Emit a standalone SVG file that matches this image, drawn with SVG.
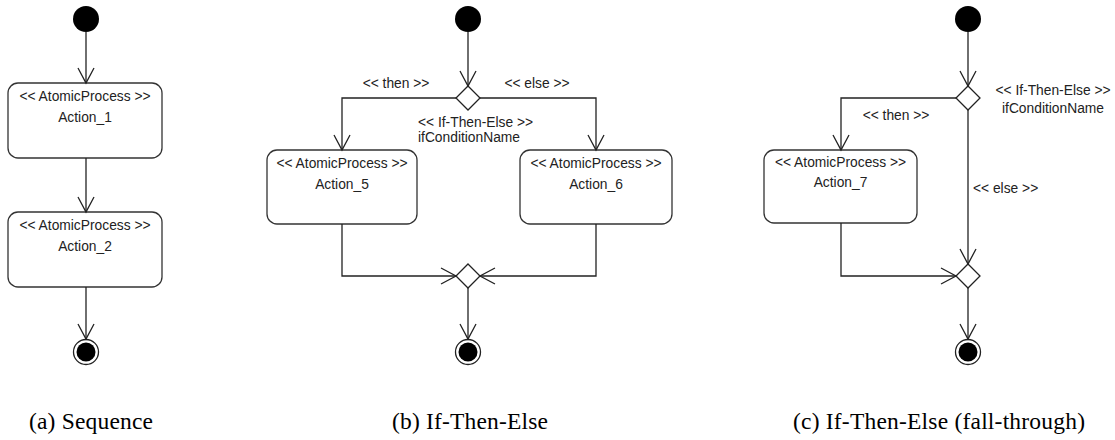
<svg xmlns="http://www.w3.org/2000/svg" width="1115" height="440" viewBox="0 0 1115 440">
<style>
.box{fill:#fff;stroke:#333;stroke-width:1.3}
.dia{fill:#fff;stroke:#222;stroke-width:1.3}
.ln{fill:none;stroke:#222;stroke-width:1.3}
.arr{marker-end:url(#ah)}
.init{fill:#000}
.fo{fill:#fff;stroke:#222;stroke-width:1.3}
.fi{fill:#000}
.t{font-family:"Liberation Sans",Arial,sans-serif;font-size:13.8px;fill:#222}
.m{text-anchor:middle}
.cap{font-family:"Liberation Serif","Times New Roman",serif;font-size:23.5px;fill:#000}
</style>
<defs>
<marker id="ah" markerUnits="userSpaceOnUse" markerWidth="18" markerHeight="20" viewBox="0 0 18 20" refX="16" refY="10" orient="auto">
<path d="M1,2 L16,10 L1,18" fill="none" stroke="#222" stroke-width="1.3"/>
</marker>
</defs>

<!-- Panel (a) -->
<g id="a-initial"><circle class="init" cx="86" cy="19" r="13"/></g>
<g id="a-action1">
<rect class="box" x="8" y="83" width="154" height="75" rx="10"/>
<text class="t m" x="85" y="101">&lt;&lt; AtomicProcess &gt;&gt;</text>
<text class="t m" x="85" y="122">Action_1</text>
</g>
<g id="a-action2">
<rect class="box" x="8" y="212" width="154" height="75" rx="10"/>
<text class="t m" x="85" y="230">&lt;&lt; AtomicProcess &gt;&gt;</text>
<text class="t m" x="85" y="251">Action_2</text>
</g>
<g id="a-final"><circle class="fo" cx="86" cy="352" r="12.5"/><circle class="fi" cx="86" cy="352" r="9.5"/></g>

<!-- Panel (b) -->
<g id="b-initial"><circle class="init" cx="468" cy="19" r="13"/></g>
<g id="b-decision">
<polygon class="dia" points="468,86 480,98 468,110 456,98"/>
<text class="t" x="418" y="127">&lt;&lt; If-Then-Else &gt;&gt;</text>
<text class="t" x="418" y="142">ifConditionName</text>
</g>
<g id="b-action5">
<rect class="box" x="267" y="150" width="150" height="74" rx="10"/>
<text class="t m" x="342" y="168">&lt;&lt; AtomicProcess &gt;&gt;</text>
<text class="t m" x="342" y="189">Action_5</text>
</g>
<g id="b-action6">
<rect class="box" x="520" y="150" width="152" height="74" rx="10"/>
<text class="t m" x="596" y="168">&lt;&lt; AtomicProcess &gt;&gt;</text>
<text class="t m" x="596" y="189">Action_6</text>
</g>
<g id="b-merge"><polygon class="dia" points="468,264 480,276 468,288 456,276"/></g>
<g id="b-final"><circle class="fo" cx="468" cy="352" r="12.5"/><circle class="fi" cx="468" cy="352" r="9.5"/></g>

<!-- Panel (c) -->
<g id="c-initial"><circle class="init" cx="968" cy="19" r="13"/></g>
<g id="c-decision">
<polygon class="dia" points="968,86 980,98 968,110 956,98"/>
<text class="t m" x="1053" y="95">&lt;&lt; If-Then-Else &gt;&gt;</text>
<text class="t m" x="1053" y="113">ifConditionName</text>
</g>
<g id="c-action7">
<rect class="box" x="764" y="150" width="153" height="73" rx="10"/>
<text class="t m" x="840.5" y="167">&lt;&lt; AtomicProcess &gt;&gt;</text>
<text class="t m" x="840.5" y="187">Action_7</text>
</g>
<g id="c-merge"><polygon class="dia" points="968,264 980,276 968,288 956,276"/></g>
<g id="c-final"><circle class="fo" cx="968" cy="352" r="12.5"/><circle class="fi" cx="968" cy="352" r="9.5"/></g>

<!-- Connectors -->
<g id="connectors">
<path class="ln arr" d="M86,32 L86,83"/>
<path class="ln arr" d="M86,158 L86,212"/>
<path class="ln arr" d="M86,287 L86,339"/>

<path class="ln arr" d="M468,32 L468,86"/>
<path class="ln arr" d="M456,98 L342,98 L342,150"/>
<path class="ln arr" d="M480,98 L596,98 L596,150"/>
<path class="ln arr" d="M342,224 L342,276 L456,276"/>
<path class="ln arr" d="M596,224 L596,276 L480,276"/>
<path class="ln arr" d="M468,288 L468,339"/>
<text class="t m" x="396" y="88">&lt;&lt; then &gt;&gt;</text>
<text class="t m" x="537" y="88">&lt;&lt; else &gt;&gt;</text>

<path class="ln arr" d="M968,32 L968,86"/>
<path class="ln arr" d="M956,98 L841,98 L841,150"/>
<path class="ln arr" d="M968,110 L968,264"/>
<path class="ln arr" d="M841,223 L841,276 L956,276"/>
<path class="ln arr" d="M968,288 L968,339"/>
<text class="t m" x="896" y="120">&lt;&lt; then &gt;&gt;</text>
<text class="t" x="973" y="193">&lt;&lt; else &gt;&gt;</text>
</g>

<!-- Captions -->
<text class="cap" x="29" y="429" textLength="124">(a) Sequence</text>
<text class="cap" x="392" y="429" textLength="156">(b) If-Then-Else</text>
<text class="cap" x="793" y="429" textLength="292">(c) If-Then-Else (fall-through)</text>
</svg>
